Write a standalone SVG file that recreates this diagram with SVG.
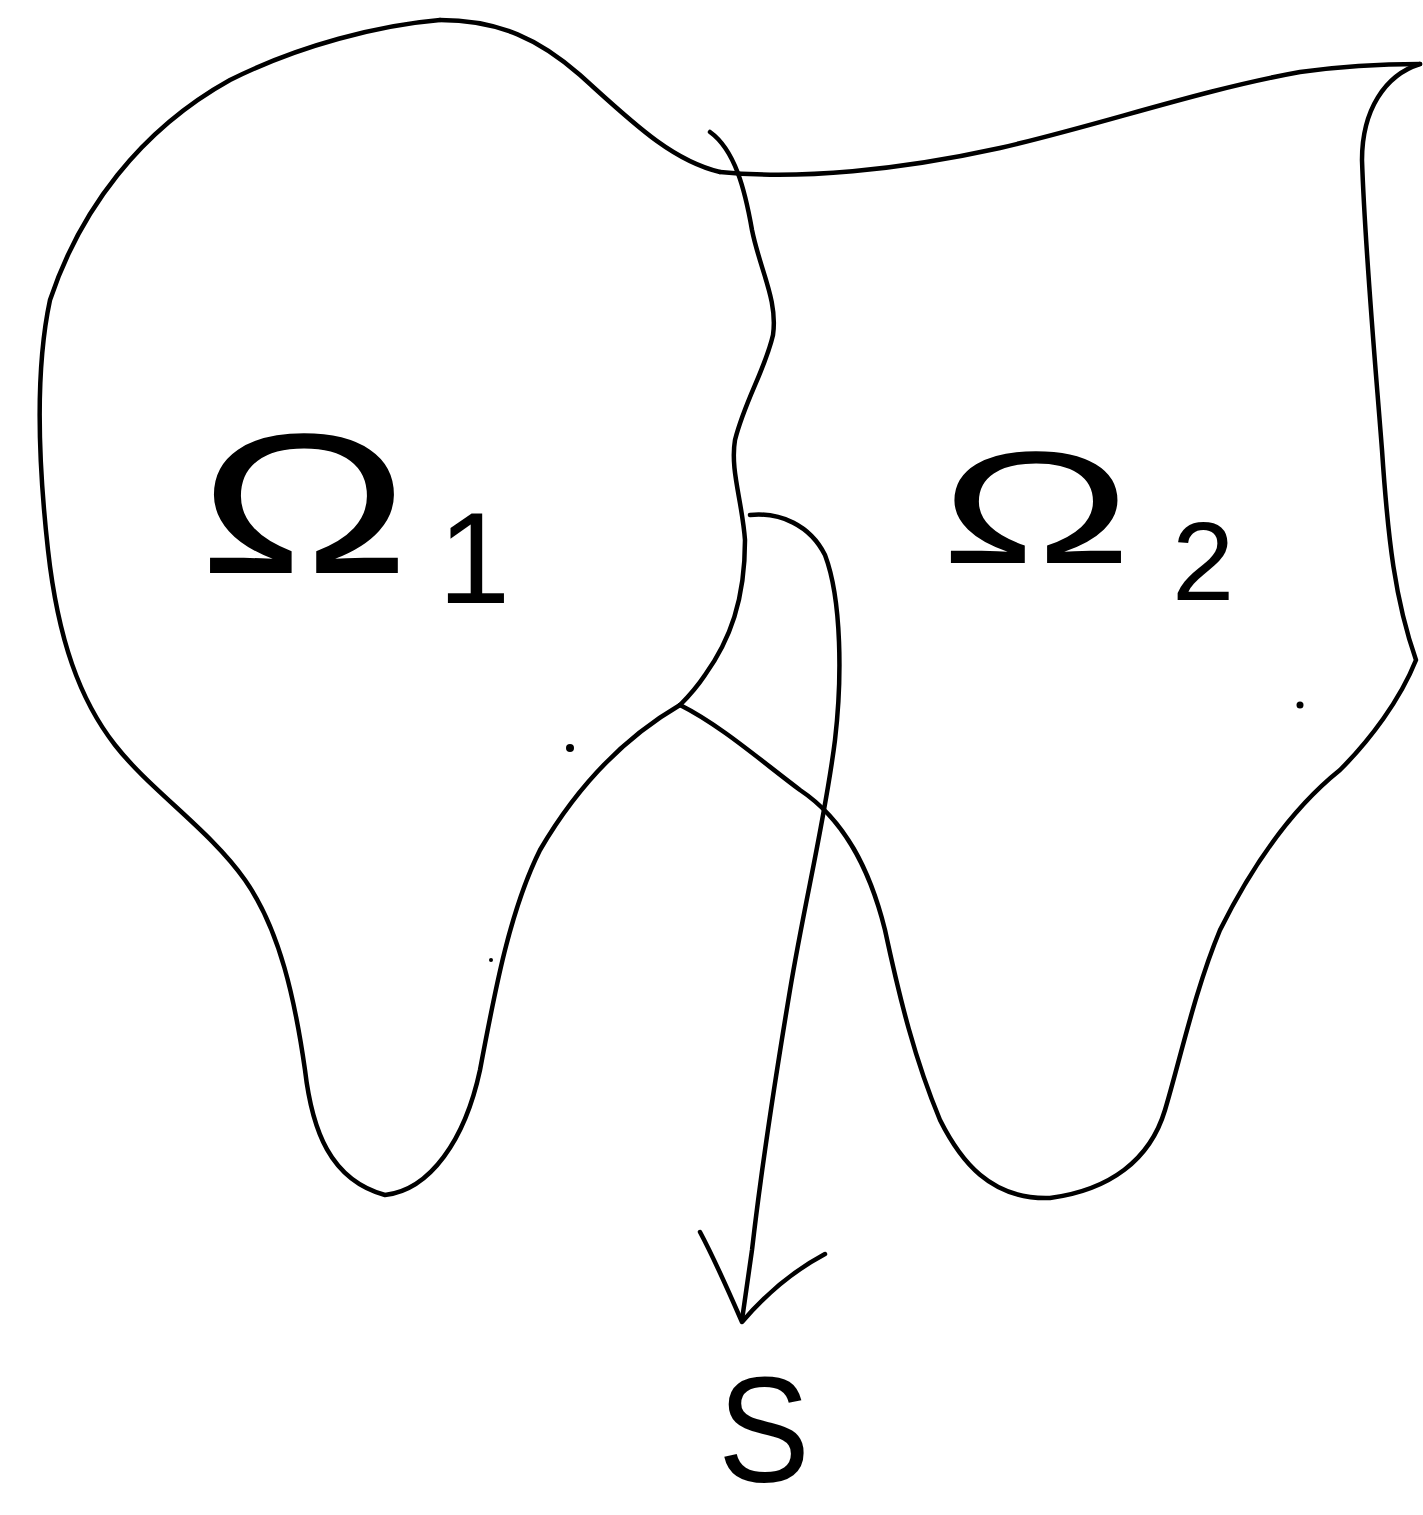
<svg xmlns="http://www.w3.org/2000/svg" width="1423" height="1515" viewBox="0 0 1423 1515">
<style>
.ln{fill:none;stroke:#000;stroke-width:4.5;stroke-linecap:round;stroke-linejoin:round}
.lb{font-family:"Liberation Sans","DejaVu Sans",sans-serif;fill:#000}
</style>
<rect width="1423" height="1515" fill="#fff"/>
<g id="omega1">
<path class="ln" d="M440,20 C380,25 300,45 230,80 C140,130 80,210 50,300 C35,370 38,460 48,550 C58,640 80,700 115,745 C150,790 210,830 245,880 C280,930 295,1000 305,1070 C312,1130 330,1180 385,1195 C430,1190 465,1140 480,1070 C495,990 510,910 540,850 C575,790 620,740 680,705"/>
<path class="ln" d="M440,20 C500,20 540,40 580,75 C630,120 670,160 720,172"/>
</g>
<g id="omega2">
<path class="ln" d="M720,172 C800,180 900,170 1000,148 C1100,125 1200,90 1300,72 C1350,65 1390,64 1420,64"/>
<path class="ln" d="M1420,64 C1385,75 1362,110 1362,160 C1365,250 1375,360 1382,450 C1388,540 1395,600 1416,660 C1400,700 1370,740 1340,770 C1290,810 1250,870 1220,930 C1195,990 1180,1060 1165,1110 C1150,1160 1110,1190 1050,1198 C990,1200 960,1160 940,1120 C915,1060 900,1000 885,930 C870,870 845,820 800,790 C760,760 720,725 680,705"/>
</g>
<g id="interface">
<path class="ln" d="M710,132 C735,150 745,190 752,230 C760,270 778,300 773,335 C765,370 745,400 735,440 C730,470 742,500 745,540 C745,600 730,640 705,675 C695,690 685,700 680,705"/>
</g>
<g id="connectors">
<path class="ln" d="M750,515 C780,512 810,525 825,555 C842,600 842,680 835,740 C825,820 805,900 790,990 C775,1080 760,1180 752,1250 L742,1320"/>
<path class="ln" d="M700,1232 C715,1260 728,1290 742,1322 C765,1295 795,1270 825,1254"/>
</g>
<g id="dots">
<circle cx="570" cy="748" r="4" fill="#000"/>
<circle cx="1300" cy="705" r="3.5" fill="#000"/>
<circle cx="491" cy="960" r="2" fill="#000"/>
</g>
<g id="labels">
<text class="lb" x="198" y="573" font-size="200" textLength="212" lengthAdjust="spacingAndGlyphs">Ω</text>
<text class="lb" x="438" y="603" font-size="130">1</text>
<text class="lb" x="940" y="563" font-size="160" textLength="192" lengthAdjust="spacingAndGlyphs">Ω</text>
<text class="lb" x="1172" y="600" font-size="112">2</text>
<text class="lb" x="718" y="1482" font-size="150" textLength="92" lengthAdjust="spacingAndGlyphs">S</text>
</g>
</svg>
